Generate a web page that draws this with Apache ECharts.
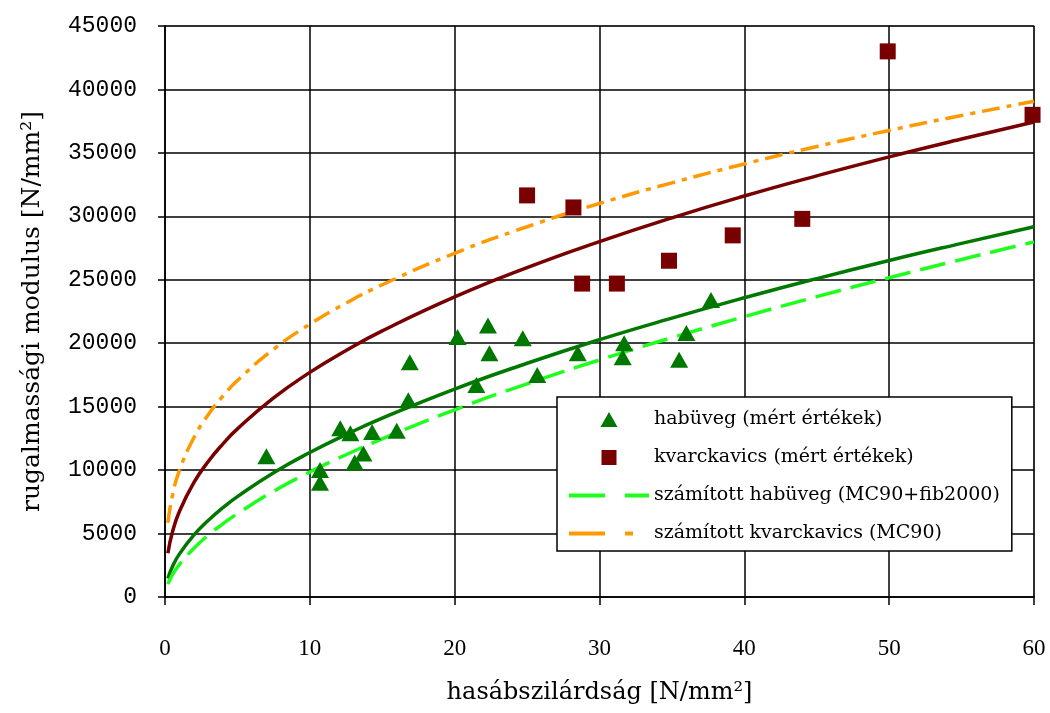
<!DOCTYPE html>
<html>
<head>
<meta charset="utf-8">
<script src="https://cdn.jsdelivr.net/npm/echarts@6/dist/echarts.min.js"></script>
<style>
  html, body { margin: 0; padding: 0; background: #fff; }
  #chart { width: 1050px; height: 713px; }
</style>
</head>
<body>
<div id="chart"></div>
<script>
// mért értékek (measured points)
const habuvegX = [7.0, 10.7, 10.7, 12.1, 12.8, 13.1, 13.7, 14.3, 16.0, 16.9, 16.8, 20.2, 21.5, 22.3, 22.4, 24.7, 25.7, 28.5, 31.7, 31.6, 36.0, 35.5, 37.7];
const habuvegY = [11100, 9000, 10000, 13300, 12900, 10600, 11300, 13000, 13100, 18500, 15500, 20500, 16700, 21400, 19200, 20400, 17500, 19200, 20000, 18900, 20800, 18700, 23400];
const kvarcX = [25.0, 28.2, 28.8, 31.2, 34.8, 39.2, 44.0, 49.9, 59.9];
const kvarcY = [31650, 30700, 24700, 24700, 26500, 28500, 29800, 43000, 38000];

// görbék (curves)
const curveX = [0.2, 0.5, 1, 2, 3, 4, 5, 7.5, 10, 12.5, 15, 20, 25, 30, 35, 40, 45, 50, 55, 60];
const habuvegFit = [1460, 2360, 3400, 4890, 6050, 7040, 7910, 9790, 11390, 12800, 14090, 16390, 18420, 20280, 21980, 23580, 25090, 26520, 27870, 29180];
const kvarcFit = [3450, 5060, 6760, 9030, 10700, 12070, 13250, 15690, 17700, 19430, 20970, 23650, 25960, 28010, 29880, 31600, 33190, 34690, 36090, 37430];
const habuvegCalc = [1010, 1720, 2570, 3850, 4880, 5770, 6570, 8330, 9850, 11210, 12470, 14750, 16800, 18680, 20440, 22090, 23670, 25160, 26600, 27990];
const kvarcCalc = [5840, 7920, 9980, 12570, 14390, 15840, 17060, 19530, 21500, 23160, 24610, 27090, 29180, 31010, 32640, 34130, 35500, 36770, 37950, 39070];

const legendNames = [
  "habüveg (mért értékek)",
  "kvarckavics (mért értékek)",
  "számított habüveg (MC90+fib2000)",
  "számított kvarckavics (MC90)",
];

// legend icons: tiny corner dots keep the 80x16 box, so the marker is not stretched
const iconBox = "M0,0 L0.01,0 L0,0.01 Z M80,16 L79.99,16 L80,15.99 Z ";
const triangleIcon = "path://" + iconBox + "M31.5,15.5 L40,0.5 L48.5,15.5 Z";
const squareIcon = "path://" + iconBox + "M32.5,0.5 L47.5,0.5 L47.5,15.5 L32.5,15.5 Z";

const zip = (xs, ys) => xs.map((x, i) => [x, ys[i]]);

const chart = echarts.init(document.getElementById("chart"));
const option = {
  animation: false,
  grid: {
    left: 165,
    right: 16,
    top: 26,
    bottom: 116,
    show: true,
    borderColor: "#a0a0a0",
    borderWidth: 1.5,
  },
  legend: {
    orient: "vertical",
    left: 557,
    top: 397,
    padding: [13, 12, 8, 10],
    backgroundColor: "#fff",
    borderColor: "#000",
    borderWidth: 1.5,
    borderRadius: 0,
    itemGap: 19,
    itemWidth: 80,
    itemHeight: 16,
    textStyle: { fontFamily: "DejaVu Serif", fontSize: 19, color: "#000", width: 348, overflow: "none" },
    data: [
      { name: legendNames[0], icon: triangleIcon },
      { name: legendNames[1], icon: squareIcon },
      {
        name: legendNames[2],
        itemStyle: { opacity: 0 },
        lineStyle: { width: 4, type: [36, 20] },
      },
      {
        name: legendNames[3],
        itemStyle: { opacity: 0 },
        lineStyle: { width: 4, type: [36, 20, 8, 20] },
      },
    ],
  },
  xAxis: {
    type: "value",
    min: 0,
    max: 60,
    interval: 10,
    name: "hasábszilárdság [N/mm²]",
    nameLocation: "middle",
    nameGap: 84,
    nameTextStyle: { fontFamily: "DejaVu Serif", fontSize: 24, color: "#000" },
    axisLine: { onZero: false, lineStyle: { color: "#000", width: 1.5 } },
    axisTick: { show: true, length: 8, lineStyle: { color: "#000", width: 1.5 } },
    axisLabel: { fontFamily: "Liberation Serif", fontSize: 23, color: "#000", margin: 40 },
    splitLine: { lineStyle: { color: "#000", width: 1.5 } },
  },
  yAxis: {
    type: "value",
    min: 0,
    max: 45000,
    interval: 5000,
    name: "rugalmassági modulus [N/mm²]",
    nameLocation: "middle",
    nameGap: 120,
    nameTextStyle: { fontFamily: "DejaVu Serif", fontSize: 25, color: "#000" },
    axisLine: { show: true, lineStyle: { color: "#000", width: 1.5 } },
    axisTick: { show: true, length: 7, lineStyle: { color: "#000", width: 1.5 } },
    axisLabel: {
      fontFamily: "Liberation Mono",
      fontSize: 23,
      color: "#000",
      margin: 28,
      formatter: (v) => String(v),
    },
    splitLine: { lineStyle: { color: "#000", width: 1.5 } },
  },
  series: [
    {
      name: legendNames[0],
      type: "scatter",
      symbol: "triangle",
      symbolSize: [18, 16],
      itemStyle: { color: "#007800", opacity: 1 },
      data: zip(habuvegX, habuvegY),
      z: 5,
    },
    {
      name: legendNames[1],
      type: "scatter",
      symbol: "rect",
      symbolSize: 16,
      itemStyle: { color: "#780000", opacity: 1 },
      data: zip(kvarcX, kvarcY),
      z: 5,
    },
    {
      name: "habüveg illesztés",
      type: "line",
      smooth: true,
      symbol: "none",
      lineStyle: { color: "#007800", width: 3.5 },
      data: zip(curveX, habuvegFit),
    },
    {
      name: "kvarckavics illesztés",
      type: "line",
      smooth: true,
      symbol: "none",
      lineStyle: { color: "#780000", width: 3.5 },
      data: zip(curveX, kvarcFit),
    },
    {
      name: legendNames[2],
      type: "line",
      smooth: true,
      symbol: "none",
      itemStyle: { color: "#1eff1e" },
      lineStyle: { color: "#1eff1e", width: 3.5, type: [26, 10] },
      data: zip(curveX, habuvegCalc),
    },
    {
      name: legendNames[3],
      type: "line",
      smooth: true,
      symbol: "none",
      itemStyle: { color: "#ff9900" },
      lineStyle: { color: "#ff9900", width: 3.5, type: [18, 7, 5, 7] },
      data: zip(curveX, kvarcCalc),
    },
  ],
};
chart.setOption(option);
</script>
</body>
</html>
